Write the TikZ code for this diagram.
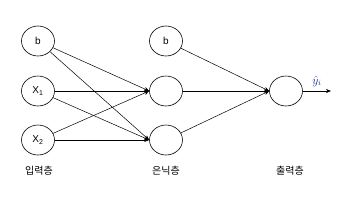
\documentclass[tikz,border=0pt]{standalone}
\usepackage{fontspec}
\setmainfont{Liberation Sans}
\newfontfamily\krfont{Noto Sans CJK KR}
\usepackage{tikz}
\usetikzlibrary{arrows.meta,shapes.geometric}
\definecolor{AzulSalida}{RGB}{40,50,140}

\begin{document}
\begin{tikzpicture}[x=1pt,y=-1pt,>={Stealth[length=5pt,width=4pt]},
  neurona/.style={draw,ellipse,line width=0.6pt,minimum width=33pt,minimum height=30pt,inner sep=0pt,font=\fontsize{10}{11}\selectfont},
  capa/.style={font=\krfont\fontsize{10}{11}\selectfont},
  enlace/.style={->,line width=0.5pt}]
  \useasboundingbox (0,0) rectangle (351,202);
  % capa de entrada
  \node[neurona] (b0) at (38,41) {b};
  \node[neurona] (x1) at (38,91) {X\textsubscript{1}};
  \node[neurona] (x2) at (38,140) {X\textsubscript{2}};
  % capa oculta
  \node[neurona] (b1) at (166,41) {b};
  \node[neurona] (h1) at (166,91) {};
  \node[neurona] (h2) at (166,140) {};
  % capa de salida
  \node[neurona] (o) at (286,91) {};
  \coordinate (fin) at (331,91);
  \foreach \i in {b0,x1,x2}{
    \draw[enlace] (\i) -- (h1.west);
    \draw[enlace] (\i) -- (h2.west);
  }
  \foreach \i in {b1,h1,h2}
    \draw[enlace] (\i) -- (o.west);
  \draw[enlace] (o) -- (fin) node[midway,above=1pt,AzulSalida,font=\large] {$\hat{y}_i$};
  \node[capa] (l0) at (39,171) {입력층};
  \node[capa] (l1) at (166,171) {은닉층};
  \node[capa] (l2) at (290,171) {출력층};
\end{tikzpicture}
\end{document}
